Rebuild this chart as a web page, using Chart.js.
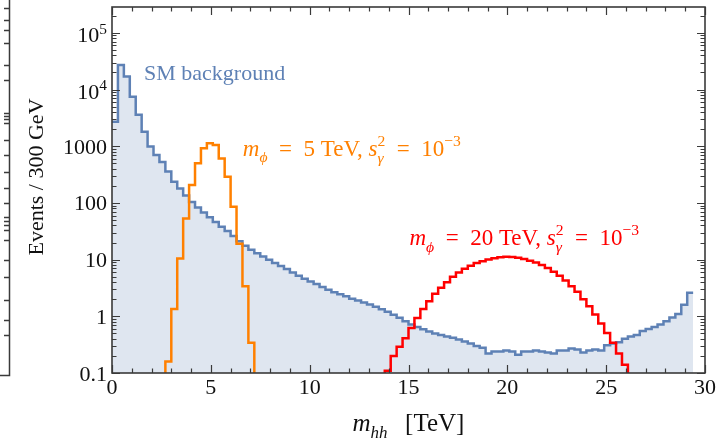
<!DOCTYPE html>
<html lang="es">
<head>
<meta charset="utf-8">
<title>m_hh</title>
<script src="https://cdn.jsdelivr.net/npm/chart.js@4.4.1/dist/chart.umd.min.js"></script>
<style>
    html, body { margin: 0; padding: 0; background: #ffffff; }
    #contenedor { position: relative; width: 718px; height: 442px; }
</style>
</head>
<body>
<div id="contenedor"><canvas id="grafico"></canvas></div>
<script>
// Bins de 300 GeV (0.3 TeV)
const anchoBin = 0.3;
const binInicio = Array.from({ length: 101 }, (_, i) => +(i * anchoBin).toFixed(1)); // bordes de los bins

// Fondo SM, bins 0 .. 97
const fondoSM = [
    2700, 27000, 17000, 7500, 3600, 1800, 990, 700, 530, 360,
    237, 180, 135, 104, 83, 68, 56, 46, 38, 32,
    26, 21, 17.5, 15, 13, 11.3, 9.9, 8.7, 7.7, 6.8,
    5.9, 5.2, 4.6, 4.1, 3.7, 3.3, 2.95, 2.65, 2.45, 2.25,
    2.05, 1.9, 1.75, 1.62, 1.48, 1.33, 1.2, 1.07, 0.94, 0.82,
    0.72, 0.65, 0.59, 0.54, 0.5, 0.47, 0.44, 0.42, 0.39, 0.36,
    0.33, 0.3, 0.28, 0.22, 0.24, 0.24, 0.25, 0.24, 0.21, 0.24,
    0.24, 0.25, 0.24, 0.23, 0.22, 0.25, 0.25, 0.27, 0.26, 0.23,
    0.25, 0.26, 0.25, 0.31, 0.33, 0.35, 0.4, 0.44, 0.47, 0.55,
    0.6, 0.65, 0.72, 0.82, 0.95, 1.1, 1.6, 2.6
];

// Señal m_phi = 5 TeV, desde el bin 9
const inicioPhi5 = 9;
const senalPhi5 = [0.16, 1.35, 10.5, 53, 207, 500, 920, 1130, 1050, 610, 290, 86, 19, 3.4, 0.34];

// Señal m_phi = 20 TeV, desde el bin 46
const inicioPhi20 = 46;
const senalPhi20 = [
    0.11, 0.2, 0.29, 0.41, 0.62, 0.93, 1.35, 1.85, 2.5, 3.2,
    4.0, 5.0, 5.9, 6.9, 7.8, 8.7, 9.4, 10.1, 10.6, 11.0,
    11.2, 11.1, 10.8, 10.3, 9.6, 8.9, 8.0, 7.1, 6.1, 5.2,
    4.3, 3.4, 2.7, 2.0, 1.5, 1.08, 0.75, 0.51, 0.34, 0.22,
    0.14
];

// Ejes
const xTicks = [0, 5, 10, 15, 20, 25, 30];
const yTicks = [0.1, 1, 10, 100, 1000, 1e4, 1e5];
const yEtiquetas = ["0.1", "1", "10", "100", "1000", "10^4", "10^5"];
const yMin = 0.1;
const yMax = 2.86e5;

const colorSM = "#5E81B5";
const rellenoSM = "#DFE6F0";
const colorPhi5 = "#FF8000";
const colorPhi20 = "#FF0000";
const serif = '"Liberation Serif", "DejaVu Serif", serif';
const tamTexto = 22;

// Convierte un histograma en puntos para una línea escalonada
function puntosEscalon(valores, primerBin, cerrar) {
    const pts = [];
    if (cerrar) pts.push({ x: binInicio[primerBin], y: yMin / 2 });
    valores.forEach((v, i) => pts.push({ x: binInicio[primerBin + i], y: v }));
    const fin = binInicio[primerBin + valores.length];
    pts.push({ x: fin, y: valores[valores.length - 1] });
    if (cerrar) pts.push({ x: fin, y: yMin / 2 });
    return pts;
}

function etiquetaSenal(masa) {
    return [
        { t: "m", i: true },
        { t: "ϕ", i: true, s: 0.68, d: 0.28 },
        { t: "\u2002=\u2002" + masa + " TeV, " },
        { t: "s", i: true },
        { t: "γ", i: true, s: 0.68, d: 0.3, adv: false },
        { t: "2", s: 0.68, d: -0.42 },
        { t: "\u2002=\u200210" },
        { t: "−3", s: 0.68, d: -0.42 }
    ];
}

// Anotaciones, posición en unidades de datos (TeV, eventos)
const anotaciones = [
    { partes: [{ t: "SM background" }], x: 1.62, y: 14800, color: colorSM, tam: 22 },
    { partes: etiquetaSenal("5"), x: 6.62, y: 674, color: colorPhi5, tam: 23 },
    { partes: etiquetaSenal("20"), x: 15.05, y: 18, color: colorPhi20, tam: 23 }
];

// Dibuja texto con partes en cursiva, subíndices y superíndices
function dibujarPartes(ctx, partes, x, y, tam, soloMedir) {
    let cx = x;
    partes.forEach(p => {
        const s = tam * (p.s || 1);
        ctx.font = (p.i ? "italic " : "") + s + "px " + serif;
        if (!soloMedir) ctx.fillText(p.t, cx, y + (p.d || 0) * tam);
        if (p.adv !== false) cx += ctx.measureText(p.t).width;
    });
    return cx - x;
}

const pluginDibujo = {
    id: "dibujo",
    afterDraw(chart) {
        const { ctx, chartArea: a, scales } = chart;
        const x = scales.x, y = scales.y;
        ctx.save();

        // Marcas de los ejes (hacia dentro)
        ctx.strokeStyle = "#3a3a3a";
        ctx.lineWidth = 1.2;
        ctx.beginPath();
        for (let v = xTicks[0]; v <= xTicks[xTicks.length - 1]; v++) {
            const px = Math.round(x.getPixelForValue(v)) + 0.5;
            const largo = xTicks.includes(v) ? 8 : 4.5;
            ctx.moveTo(px, a.bottom); ctx.lineTo(px, a.bottom - largo);
            ctx.moveTo(px, a.top); ctx.lineTo(px, a.top + largo);
        }
        yTicks.forEach(d => {
            for (let m = 1; m <= 9; m++) {
                const v = m * d;
                if (v < yMin || v > yMax) continue;
                const py = Math.round(y.getPixelForValue(v)) + 0.5;
                const largo = m === 1 ? 8 : 4.5;
                ctx.moveTo(a.left, py); ctx.lineTo(a.left + largo, py);
                ctx.moveTo(a.right, py); ctx.lineTo(a.right - largo, py);
            }
        });
        ctx.stroke();

        // Marco
        ctx.lineWidth = 1.6;
        ctx.strokeRect(a.left, a.top, a.right - a.left, a.bottom - a.top);

        // Etiquetas del eje y
        ctx.fillStyle = "#111";
        ctx.textAlign = "left";
        ctx.textBaseline = "alphabetic";
        y.ticks.forEach(t => {
            const py = y.getPixelForValue(t.value);
            const txt = yEtiquetas[yTicks.indexOf(t.value)];
            const [base, exp] = txt.split("^");
            const partes = exp
                ? [{ t: base }, { t: exp, s: 0.7, d: -0.4 }]
                : [{ t: base }];
            const w = dibujarPartes(ctx, partes, 0, 0, tamTexto, true);
            const baseY = py + (exp ? 9.5 : 7.5);
            dibujarPartes(ctx, partes, a.left - 5 - w, baseY, tamTexto, false);
        });

        // Título eje x: m_hh  [TeV]
        const tituloX = [
            { t: "m", i: true },
            { t: "hh", i: true, s: 0.68, d: 0.28 },
            { t: "\u2002\u2009[TeV]" }
        ];
        const wx = dibujarPartes(ctx, tituloX, 0, 0, 25, true);
        dibujarPartes(ctx, tituloX, (a.left + a.right) / 2 - wx / 2, 431, 25, false);

        // Título eje y
        ctx.save();
        ctx.translate(43, (a.top + a.bottom) / 2 - 13);
        ctx.rotate(-Math.PI / 2);
        ctx.font = tamTexto + "px " + serif;
        ctx.textAlign = "center";
        ctx.fillText("Events / 300 GeV", 0, 0);
        ctx.restore();

        // Anotaciones
        ctx.textAlign = "left";
        anotaciones.forEach(an => {
            ctx.fillStyle = an.color;
            dibujarPartes(ctx, an.partes, x.getPixelForValue(an.x), y.getPixelForValue(an.y), an.tam, false);
        });

        // Resto del panel vecino a la izquierda
        ctx.strokeStyle = "#3a3a3a";
        ctx.lineWidth = 1.5;
        ctx.beginPath();
        ctx.moveTo(9.5, 0); ctx.lineTo(9.5, 375.5); ctx.lineTo(0, 375.5);
        [8, 20, 30, 43, 65, 80, 113, 116, 119, 123, 140, 155, 172, 188, 203, 217, 221, 225, 230, 240, 260, 277, 300, 320, 335].forEach(py => {
            ctx.moveTo(9.5, py + 0.5); ctx.lineTo(4, py + 0.5);
        });
        ctx.stroke();

        ctx.restore();
    }
};

// "before": la línea sigue horizontal con el valor del punto anterior hasta el siguiente borde
const lineaBase = {
    stepped: "before",
    pointRadius: 0,
    borderWidth: 2.5,
    borderJoinStyle: "miter",
    tension: 0,
    clip: 0
};

new Chart(document.getElementById("grafico"), {
    type: "line",
    data: {
        datasets: [
            {
                ...lineaBase,
                label: "m_phi = 20 TeV",
                data: puntosEscalon(senalPhi20, inicioPhi20, true),
                borderColor: colorPhi20,
                fill: false,
                order: 1
            },
            {
                ...lineaBase,
                label: "m_phi = 5 TeV",
                data: puntosEscalon(senalPhi5, inicioPhi5, true),
                borderColor: colorPhi5,
                fill: false,
                order: 2
            },
            {
                ...lineaBase,
                label: "SM background",
                data: puntosEscalon(fondoSM, 0, false),
                borderColor: colorSM,
                backgroundColor: rellenoSM,
                fill: "start",
                order: 3
            }
        ]
    },
    options: {
        responsive: true,
        maintainAspectRatio: false,
        animation: false,
        events: [],
        layout: { padding: { top: 7, right: 12, left: 0, bottom: 0 } },
        plugins: {
            legend: { display: false },
            tooltip: { enabled: false }
        },
        scales: {
            x: {
                type: "linear",
                min: 0,
                max: 30,
                afterBuildTicks: s => { s.ticks = xTicks.map(v => ({ value: v })); },
                afterFit: s => { s.height = 69; },
                grid: { display: false, drawTicks: false },
                border: { display: false },
                ticks: {
                    padding: 2,
                    maxRotation: 0,
                    color: "#111",
                    font: { family: serif, size: tamTexto },
                    callback: v => String(v)
                }
            },
            y: {
                type: "logarithmic",
                min: yMin,
                max: yMax,
                afterBuildTicks: s => { s.ticks = yTicks.map(v => ({ value: v })); },
                afterFit: s => { s.width = 112; },
                grid: { display: false, drawTicks: false },
                border: { display: false },
                ticks: { display: false }
            }
        }
    },
    plugins: [pluginDibujo]
});
</script>
</body>
</html>
